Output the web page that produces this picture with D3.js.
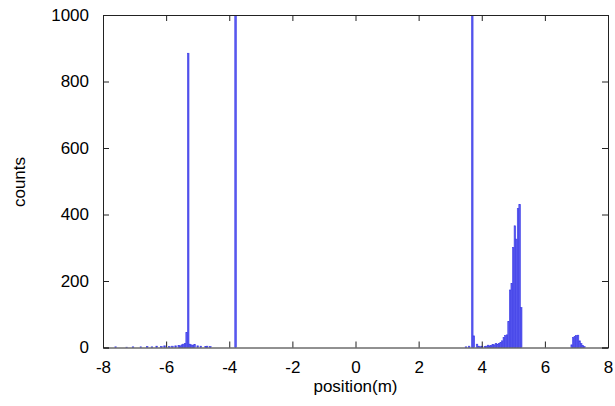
<!DOCTYPE html>
<html>
<head>
<meta charset="utf-8">
<script src="https://cdn.jsdelivr.net/npm/d3@7"></script>
<style>
  body { margin: 0; background: #fff; }
  text { font-family: "Liberation Sans", Arial, sans-serif; }
</style>
</head>
<body>
<div id="chart"></div>
<script>
var width = 615,
    height = 406;

var margin = {top: 15, right: 7, bottom: 58.5, left: 103};

// histogram bins (bin centres, 0.05 m wide) and their counts; empty bins left out
var binWidth = 0.05;
var binCenters = [
  -7.60, -7.25, -7.05, -6.80, -6.60, -6.45, -6.30, -6.15, -6.05, -5.90,
  -5.80, -5.70, -5.60, -5.55, -5.50, -5.45, -5.40, -5.35, -5.30, -5.25,
  -5.20, -5.15, -5.10, -5.00, -4.90, -4.75, -4.70, -4.60, -3.80,
  3.50, 3.60, 3.70, 3.75, 3.85, 3.90, 3.95, 4.00, 4.10, 4.15, 4.20, 4.25,
  4.30, 4.35, 4.40, 4.45, 4.50, 4.55, 4.60, 4.65, 4.70, 4.75, 4.80, 4.85,
  4.90, 4.95, 5.00, 5.05, 5.10, 5.15, 5.20, 5.25,
  6.85, 6.90, 6.95, 7.00, 7.05, 7.10, 7.15, 7.20, 7.25
];
var counts = [
  2, 1, 2, 2, 3, 2, 4, 3, 5, 3,
  4, 5, 6, 5, 8, 10, 12, 45, 885, 10,
  8, 6, 9, 5, 4, 3, 4, 3, 3000,
  2, 4, 3000, 35, 10, 4, 2, 4, 3, 4, 7, 5,
  6, 9, 8, 12, 10, 12, 15, 20, 30, 36, 38, 78,
  173, 193, 301, 366, 326, 418, 430, 120,
  8, 30, 33, 36, 37, 20, 12, 6, 3
];

var xTicks = [-8, -6, -4, -2, 0, 2, 4, 6, 8];
var yTicks = [0, 200, 400, 600, 800, 1000];

var x = d3.scaleLinear().domain([-8, 8]).range([margin.left, width - margin.right]);
var y = d3.scaleLinear().domain([0, 1000]).range([height - margin.bottom, margin.top]);

var svg = d3.select("#chart").append("svg")
  .attr("width", width)
  .attr("height", height);

svg.append("clipPath").attr("id", "plotclip")
  .append("rect")
  .attr("x", margin.left)
  .attr("y", margin.top)
  .attr("width", width - margin.left - margin.right)
  .attr("height", height - margin.top - margin.bottom);

var bins = binCenters.map(function(c, i) { return {c: c, n: counts[i]}; });

svg.append("g")
  .attr("clip-path", "url(#plotclip)")
  .selectAll("rect")
  .data(bins)
  .enter().append("rect")
  .attr("x", function(d) { return x(d.c - binWidth / 2); })
  .attr("width", function(d) { return x(d.c + binWidth / 2) - x(d.c - binWidth / 2); })
  .attr("y", function(d) { return y(d.n); })
  .attr("height", function(d) { return y(0) - y(d.n); })
  .attr("fill", "#5a5af0")
  .attr("stroke", "#3c3ce6")
  .attr("stroke-width", 0.6);

// axes, gnuplot style: ticks inward and mirrored
var tl = 6;
var plain = function(d) { return String(d); };
var axBottom = svg.append("g").attr("transform", "translate(0," + y(0) + ")")
  .call(d3.axisBottom(x).tickValues(xTicks).tickSize(-tl).tickPadding(13).tickFormat(plain));
var axTop = svg.append("g").attr("transform", "translate(0," + y(1000) + ")")
  .call(d3.axisTop(x).tickValues(xTicks).tickSize(-tl).tickFormat(""));
var axLeft = svg.append("g").attr("transform", "translate(" + x(-8) + ",0)")
  .call(d3.axisLeft(y).tickValues(yTicks).tickSize(-tl).tickPadding(tl + 8).tickFormat(plain));
var axRight = svg.append("g").attr("transform", "translate(" + x(8) + ",0)")
  .call(d3.axisRight(y).tickValues(yTicks).tickSize(-tl).tickFormat(""));

[axBottom, axTop, axLeft, axRight].forEach(function(g) {
  g.select(".domain").attr("stroke", "#222").attr("stroke-width", 1);
  g.selectAll(".tick line").attr("stroke", "#222");
  g.selectAll(".tick text")
    .style("font-size", "17px")
    .style("font-family", "'Liberation Sans', Arial, sans-serif")
    .attr("fill", "#000");
});

svg.append("text")
  .attr("x", (x(-8) + x(8)) / 2)
  .attr("y", 392)
  .style("text-anchor", "middle")
  .style("font-size", "17px")
  .text("position(m)");

svg.append("text")
  .attr("transform", "translate(25," + 182 + ") rotate(-90)")
  .style("text-anchor", "middle")
  .style("font-size", "17px")
  .text("counts");
</script>
</body>
</html>
